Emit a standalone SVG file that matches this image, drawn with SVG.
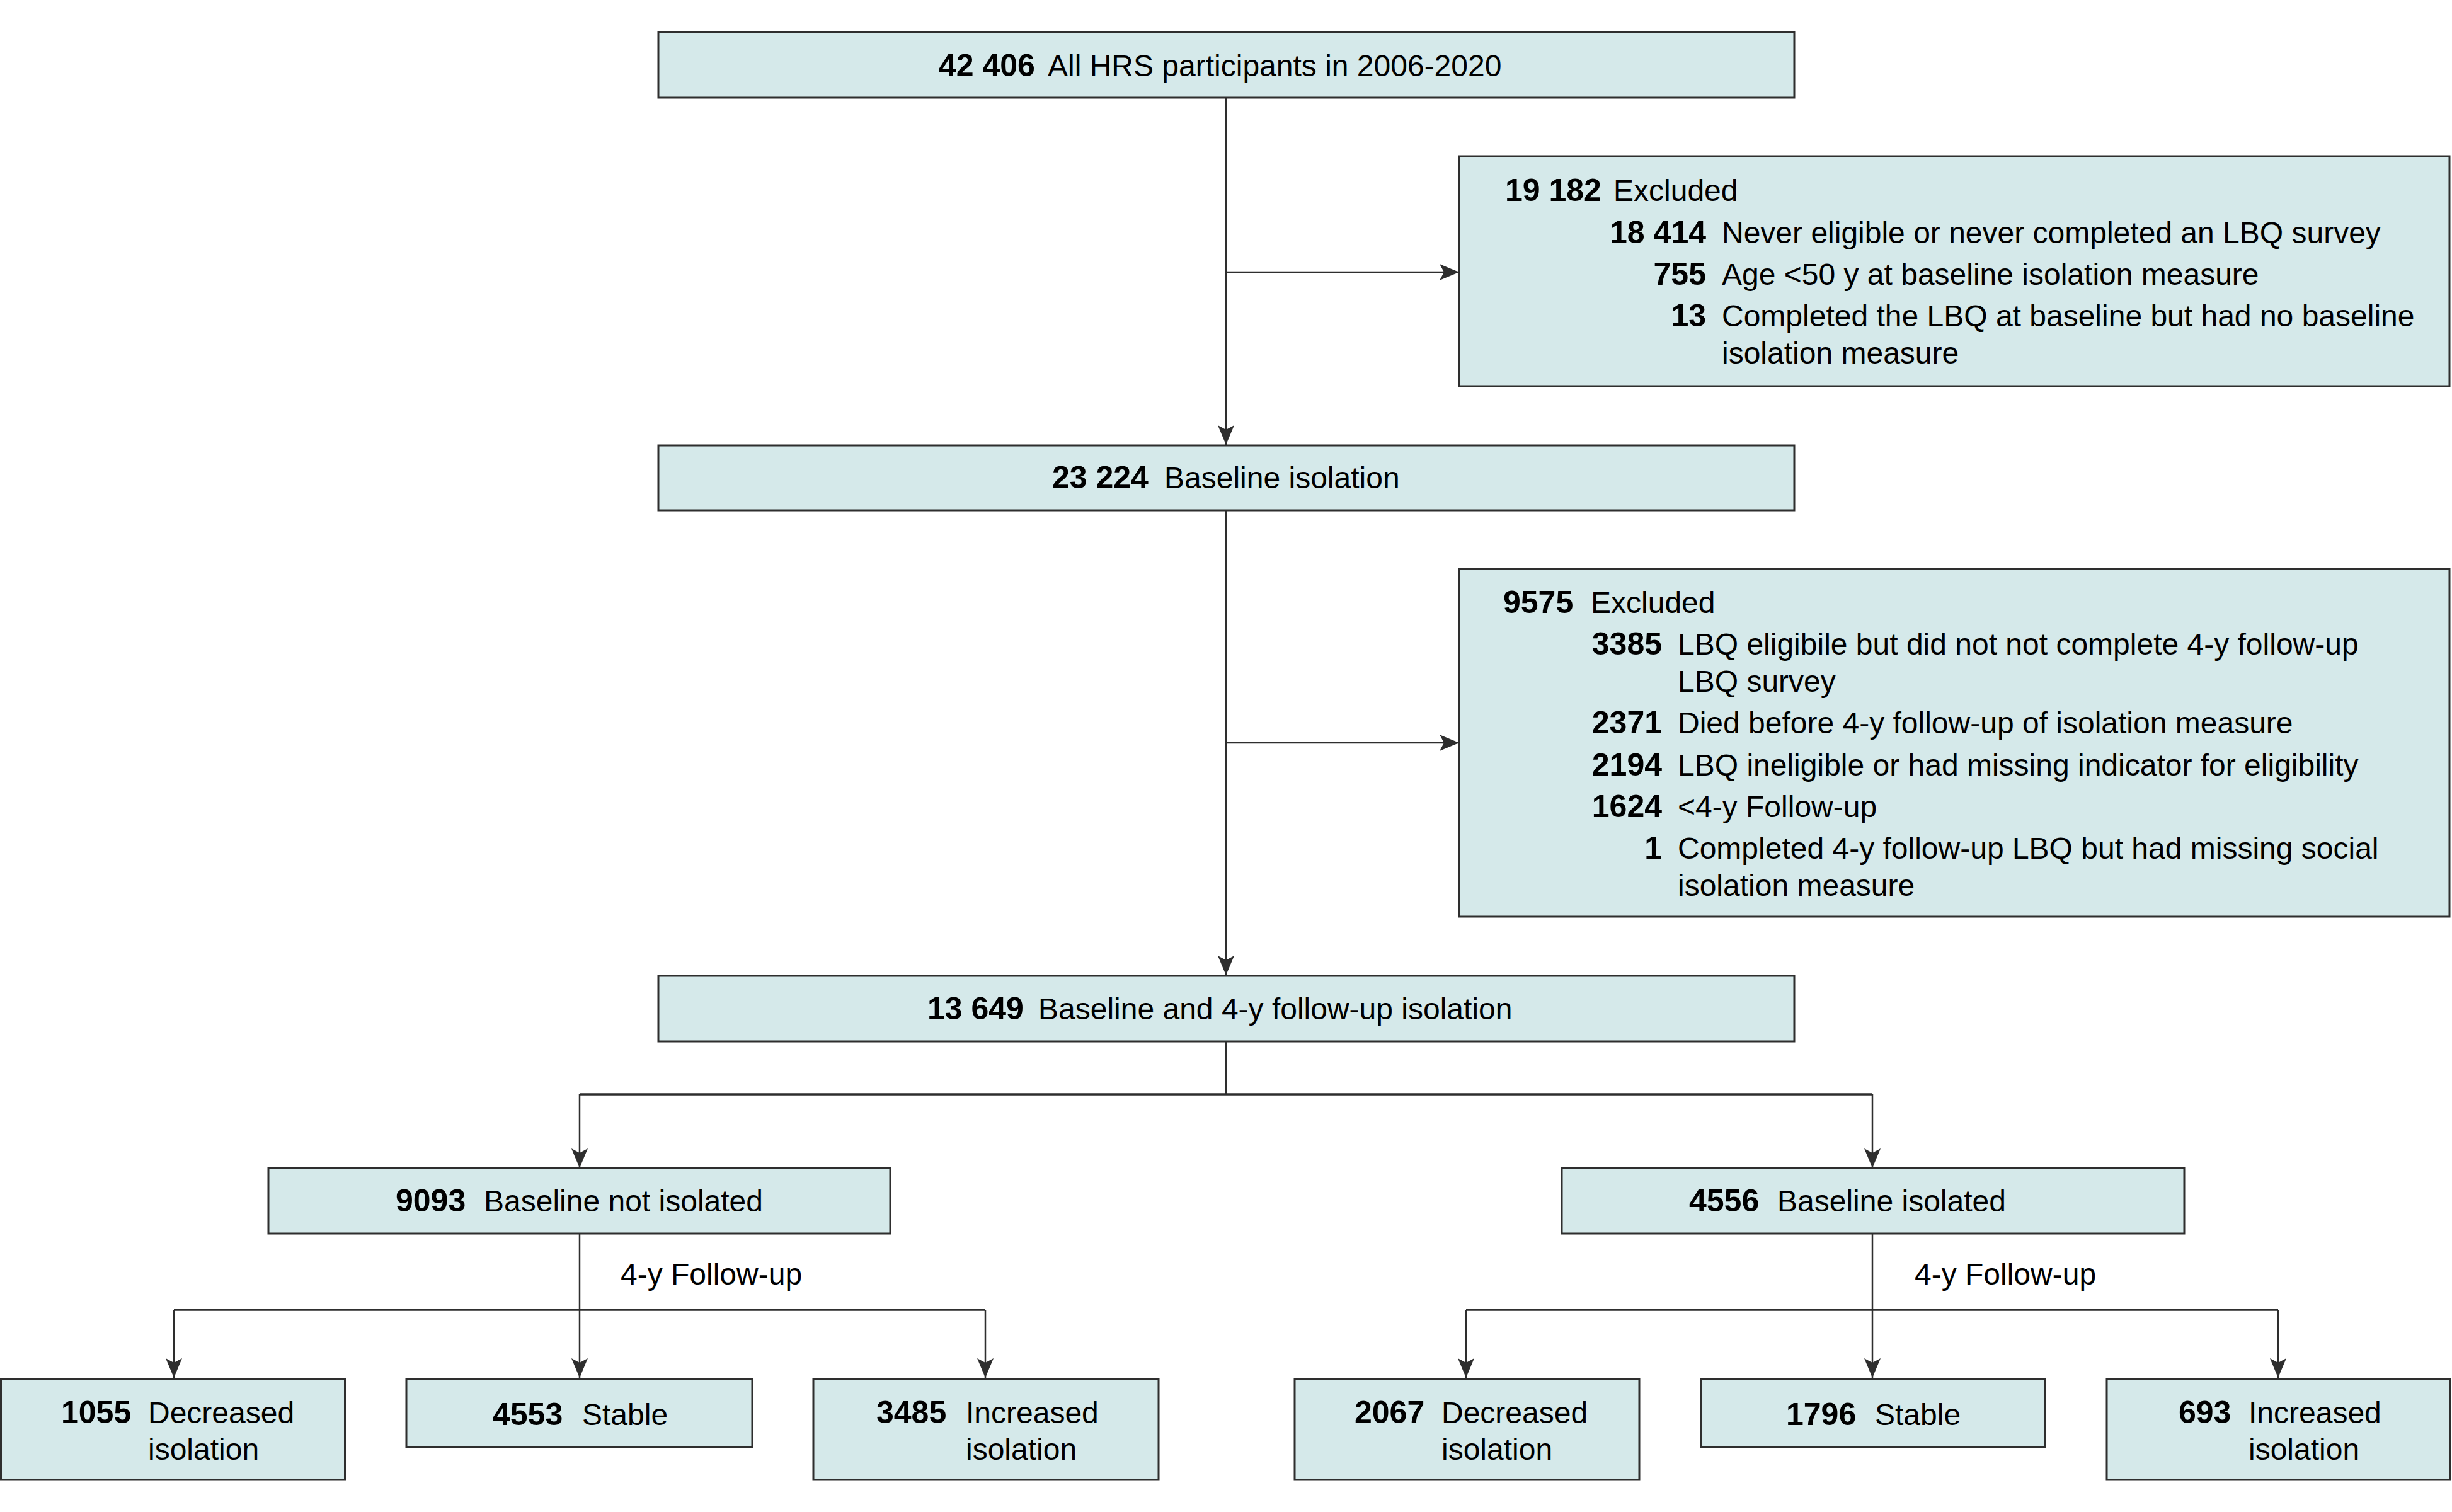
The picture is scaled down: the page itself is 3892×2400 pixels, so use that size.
<svg xmlns="http://www.w3.org/2000/svg" width="3892" height="2400" viewBox="0 0 3892 2400">
<defs>
<style>
.box{fill:#D5E9EA;stroke:#2e2e2e;stroke-width:3}
.t{font-family:"Liberation Sans",Arial,sans-serif;font-size:48px;fill:#000}
.n{font-family:"Liberation Sans",Arial,sans-serif;font-size:50px;font-weight:bold;fill:#000}
.r{text-anchor:end}
.ln{fill:none;stroke:#2e2e2e;stroke-width:2.5}
.bus{fill:none;stroke:#2e2e2e;stroke-width:3.5}
</style>
<marker id="ah" markerUnits="userSpaceOnUse" markerWidth="32" markerHeight="26" viewBox="0 0 32 26" refX="31" refY="13" orient="auto">
<path d="M0,0 L31,13 L0,26 L7,13 Z" fill="#2e2e2e"/>
</marker>
</defs>
<rect width="3892" height="2400" fill="#fff"/>

<g id="connectors">
<line class="ln" x1="1946" y1="155" x2="1946" y2="706" marker-end="url(#ah)"/>
<line class="ln" x1="1946" y1="432" x2="2316" y2="432" marker-end="url(#ah)"/>
<line class="ln" x1="1946" y1="810" x2="1946" y2="1548" marker-end="url(#ah)"/>
<line class="ln" x1="1946" y1="1179" x2="2316" y2="1179" marker-end="url(#ah)"/>
<line class="ln" x1="1946" y1="1653" x2="1946" y2="1737"/>
<line class="bus" x1="920" y1="1737" x2="2972" y2="1737"/>
<line class="ln" x1="920" y1="1737" x2="920" y2="1854" marker-end="url(#ah)"/>
<line class="ln" x1="2972" y1="1737" x2="2972" y2="1854" marker-end="url(#ah)"/>
<line class="ln" x1="920" y1="1958" x2="920" y2="2079"/>
<line class="bus" x1="276" y1="2079" x2="1564" y2="2079"/>
<line class="ln" x1="276" y1="2079" x2="276" y2="2187" marker-end="url(#ah)"/>
<line class="ln" x1="920" y1="2079" x2="920" y2="2187" marker-end="url(#ah)"/>
<line class="ln" x1="1564" y1="2079" x2="1564" y2="2187" marker-end="url(#ah)"/>
<line class="ln" x1="2972" y1="1958" x2="2972" y2="2079"/>
<line class="bus" x1="2327" y1="2079" x2="3616" y2="2079"/>
<line class="ln" x1="2327" y1="2079" x2="2327" y2="2187" marker-end="url(#ah)"/>
<line class="ln" x1="2972" y1="2079" x2="2972" y2="2187" marker-end="url(#ah)"/>
<line class="ln" x1="3616" y1="2079" x2="3616" y2="2187" marker-end="url(#ah)"/>
<text class="t" x="985" y="2039">4-y Follow-up</text>
<text class="t" x="3039" y="2039">4-y Follow-up</text>
</g>

<g id="all">
<rect class="box" x="1045" y="51" width="1803" height="104"/>
<text class="n" x="1490" y="121">42 406</text>
<text class="t" x="1663" y="121">All HRS participants in 2006-2020</text>
</g>

<g id="excluded1">
<rect class="box" x="2316" y="248" width="1572" height="365"/>
<text class="n" x="2389" y="319">19 182</text>
<text class="t" x="2561" y="319">Excluded</text>
<text class="n r" x="2708" y="386">18 414</text>
<text class="t" x="2733" y="386">Never eligible or never completed an LBQ survey</text>
<text class="n r" x="2708" y="452">755</text>
<text class="t" x="2733" y="452">Age &lt;50 y at baseline isolation measure</text>
<text class="n r" x="2708" y="518">13</text>
<text class="t" x="2733" y="518">Completed the LBQ at baseline but had no baseline</text>
<text class="t" x="2733" y="577">isolation measure</text>
</g>

<g id="baseline">
<rect class="box" x="1045" y="707" width="1803" height="103"/>
<text class="n" x="1670" y="775">23 224</text>
<text class="t" x="1848" y="775">Baseline isolation</text>
</g>

<g id="excluded2">
<rect class="box" x="2316" y="903" width="1572" height="552"/>
<text class="n" x="2386" y="973">9575</text>
<text class="t" x="2525" y="973">Excluded</text>
<text class="n r" x="2638" y="1039">3385</text>
<text class="t" x="2663" y="1039">LBQ eligibile but did not not complete 4-y follow-up</text>
<text class="t" x="2663" y="1098">LBQ survey</text>
<text class="n r" x="2638" y="1164">2371</text>
<text class="t" x="2663" y="1164">Died before 4-y follow-up of isolation measure</text>
<text class="n r" x="2638" y="1231">2194</text>
<text class="t" x="2663" y="1231">LBQ ineligible or had missing indicator for eligibility</text>
<text class="n r" x="2638" y="1297">1624</text>
<text class="t" x="2663" y="1297">&lt;4-y Follow-up</text>
<text class="n r" x="2638" y="1363">1</text>
<text class="t" x="2663" y="1363">Completed 4-y follow-up LBQ but had missing social</text>
<text class="t" x="2663" y="1422">isolation measure</text>
</g>

<g id="followup">
<rect class="box" x="1045" y="1549" width="1803" height="104"/>
<text class="n" x="1472" y="1618">13 649</text>
<text class="t" x="1648" y="1618">Baseline and 4-y follow-up isolation</text>
</g>

<g id="not-isolated">
<rect class="box" x="426" y="1854" width="987" height="104"/>
<text class="n" x="628" y="1923">9093</text>
<text class="t" x="768" y="1923">Baseline not isolated</text>
</g>

<g id="isolated">
<rect class="box" x="2479" y="1854" width="988" height="104"/>
<text class="n" x="2681" y="1923">4556</text>
<text class="t" x="2821" y="1923">Baseline isolated</text>
</g>

<g id="ni-decreased">
<rect class="box" x="1.5" y="2189" width="546" height="160"/>
<text class="n" x="97" y="2259">1055</text>
<text class="t" x="235" y="2259">Decreased</text>
<text class="t" x="235" y="2317">isolation</text>
</g>

<g id="ni-stable">
<rect class="box" x="645" y="2189" width="549" height="108"/>
<text class="n" x="782" y="2262">4553</text>
<text class="t" x="924" y="2262">Stable</text>
</g>

<g id="ni-increased">
<rect class="box" x="1291" y="2189" width="548" height="160"/>
<text class="n" x="1391" y="2259">3485</text>
<text class="t" x="1533" y="2259">Increased</text>
<text class="t" x="1533" y="2317">isolation</text>
</g>

<g id="i-decreased">
<rect class="box" x="2055" y="2189" width="547" height="160"/>
<text class="n" x="2150" y="2259">2067</text>
<text class="t" x="2288" y="2259">Decreased</text>
<text class="t" x="2288" y="2317">isolation</text>
</g>

<g id="i-stable">
<rect class="box" x="2700" y="2189" width="546" height="108"/>
<text class="n" x="2835" y="2262">1796</text>
<text class="t" x="2976" y="2262">Stable</text>
</g>

<g id="i-increased">
<rect class="box" x="3344" y="2189" width="545" height="160"/>
<text class="n" x="3458" y="2259">693</text>
<text class="t" x="3569" y="2259">Increased</text>
<text class="t" x="3569" y="2317">isolation</text>
</g>
</svg>
